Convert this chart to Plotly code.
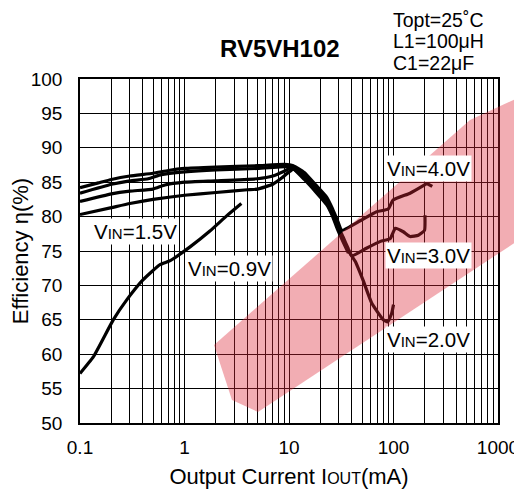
import math
import plotly.graph_objects as go

# ---- data ----
i_09 = [0.1, 0.134, 0.208, 0.28, 0.4, 0.58, 0.73, 1.13, 1.75, 2.53, 3.5]
e_09 = [57.2, 59.6, 65.0, 67.9, 70.8, 73.0, 73.6, 75.6, 77.9, 80.1, 81.9]

i_15 = [0.1, 0.2, 0.3, 0.5, 1, 2, 4, 5, 7, 8.5, 10, 11, 14, 18, 23, 26, 29, 33, 37]
e_15 = [80.3, 81.3, 81.9, 82.5, 83.1, 83.5, 83.9, 84.0, 84.7, 85.6, 86.5, 86.9, 85.4, 83.6, 81.7, 80.1, 78.2, 76.3, 74.7]

i_20 = [0.1, 0.2, 0.3, 0.5, 0.65, 1, 2, 5, 7, 9, 10.5, 14, 18, 23, 26, 29, 33, 37, 43, 51, 62, 80, 88, 96, 100]
e_20 = [82.2, 83.3, 83.7, 84.0, 84.6, 85.0, 85.2, 85.5, 85.9, 86.6, 87.1, 85.7, 83.9, 82.0, 80.4, 78.5, 76.6, 75.0, 73.5, 70.8, 67.4, 65.0, 64.7, 65.9, 67.2]

i_30 = [0.1, 0.2, 0.3, 0.45, 0.6, 1, 2, 5, 10, 11, 14, 18, 23, 26, 29, 33, 37, 40, 55, 75, 93, 104, 124, 144, 173, 198, 200]
e_30 = [83.4, 84.7, 85.2, 85.5, 86.1, 86.5, 86.8, 87.0, 87.3, 87.2, 86.0, 84.2, 82.3, 80.7, 78.9, 77.0, 75.3, 74.3, 75.4, 76.4, 76.8, 78.3, 77.8, 77.1, 77.3, 78.0, 80.2]

i_40 = [0.1, 0.15, 0.2, 0.3, 0.5, 0.7, 1, 2, 5, 9, 11, 14, 18, 23, 26, 29, 32, 48, 69, 89, 99, 144, 193, 208, 235]
e_40 = [84.2, 84.9, 85.4, 85.9, 86.3, 86.7, 87.0, 87.2, 87.4, 87.6, 87.4, 86.4, 84.6, 82.8, 81.2, 79.5, 78.0, 79.4, 80.7, 81.1, 82.4, 83.4, 84.5, 84.8, 84.4]

series = [("0.9", i_09, e_09), ("1.5", i_15, e_15), ("2.0", i_20, e_20),
          ("3.0", i_30, e_30), ("4.0", i_40, e_40)]

x_major = [0.1, 1, 10, 100, 1000]
x_major_text = ["0.1", "1", "10", "100", "1000"]
y_ticks = [50, 55, 60, 65, 70, 75, 80, 85, 90, 95, 100]

# label positions (data coords) for the VIN annotations
label_text = ["1.5", "0.9", "4.0", "3.0", "2.0"]
label_x = [0.34, 2.67, 218, 218, 218]
label_y = [77.9, 72.4, 87.0, 74.3, 62.2]

FONT = "Liberation Sans, Arial, sans-serif"

# all log grid positions
x_grid = []
x_grid_text = []
for dec in [0.1, 1, 10, 100]:
    for m in range(1, 10):
        v = round(dec * m, 6)
        x_grid.append(v)
        x_grid_text.append(x_major_text[x_major.index(dec)] if m == 1 else "")
x_grid.append(1000)
x_grid_text.append("1000")

fig = go.Figure()
for name, xs, ys in series:
    fig.add_trace(go.Scatter(x=xs, y=ys, mode="lines", name=name,
                             line=dict(color="black", width=3.2, shape="spline", smoothing=0.4),
                             showlegend=False, hoverinfo="skip"))

fig.update_xaxes(type="log", range=[-1, 3], tickvals=x_grid, ticktext=x_grid_text,
                 showgrid=True, gridcolor="black", gridwidth=1.4,
                 showline=True, linecolor="black", linewidth=1.5, mirror=True,
                 ticks="", ticklabelstandoff=6, automargin=False,
                 tickfont=dict(family=FONT, size=19, color="black"),
                 title=dict(text="Output Current I<span style='font-size:16px'>OUT</span>(mA)",
                            font=dict(family=FONT, size=22, color="black"), standoff=12),
                 zeroline=False)
fig.update_yaxes(range=[50, 100], tickvals=y_ticks,
                 showgrid=True, gridcolor="black", gridwidth=1.4,
                 showline=True, linecolor="black", linewidth=1.5, mirror=True,
                 ticks="", ticklabelstandoff=12, automargin=False,
                 tickfont=dict(family=FONT, size=19, color="black"),
                 title=dict(text="Efficiency η(%)",
                            font=dict(family=FONT, size=22, color="black"), standoff=8),
                 zeroline=False)

ann = []
for t, lx, ly in zip(label_text, label_x, label_y):
    ann.append(dict(x=math.log10(lx), y=ly, xref="x", yref="y",
                    text="V<span style='font-size:15px'>IN</span>=" + t + "V",
                    showarrow=False, bgcolor="white", borderpad=1,
                    font=dict(family=FONT, size=20.5, color="black")))

# page body adds an 8px offset; figure sized so the plot lands at x 80-498, y 79-423
OFF = 8
W, H = 522 - OFF, 495 - OFF
L, R, T, B = 80 - OFF, 24, 79 - OFF, 72
PL, PR, PT, PB = 80, 498, 79, 423


def px(xp, yp):
    return (xp - PL) / (PR - PL), (PB - yp) / (PB - PT)


tx, ty = px(280, 48)
ann.append(dict(x=tx, y=ty, xref="paper", yref="paper", yanchor="middle",
                text="<b>RV5VH102</b>", showarrow=False,
                font=dict(family=FONT, size=24, color="black")))
cond = ["Topt=25˚C", "L1=100μH", "C1=22μF"]
for k, c in enumerate(cond):
    cx, cy = px(392, 19.5 + 21.5 * k)
    ann.append(dict(x=cx, y=cy, xref="paper", yref="paper",
                    text=c, showarrow=False, xanchor="left", yanchor="middle",
                    borderpad=0,
                    font=dict(family=FONT, size=19.5, color="black")))

wm = [(214, 345), (470, 120), (522, 96), (522, 238), (258, 412), (232, 400)]
path = "M " + " L ".join("%.4f,%.4f" % px(a, b) for a, b in wm) + " Z"

fig.update_layout(
    width=W, height=H, margin=dict(l=L, r=R, t=T, b=B),
    paper_bgcolor="white", plot_bgcolor="white",
    annotations=ann,
    shapes=[dict(type="path", path=path, xref="paper", yref="paper",
                 fillcolor="rgba(220,40,55,0.38)", line=dict(width=0), layer="above")],
    font=dict(family=FONT, color="black"),
)
fig.write_html("out.html")
